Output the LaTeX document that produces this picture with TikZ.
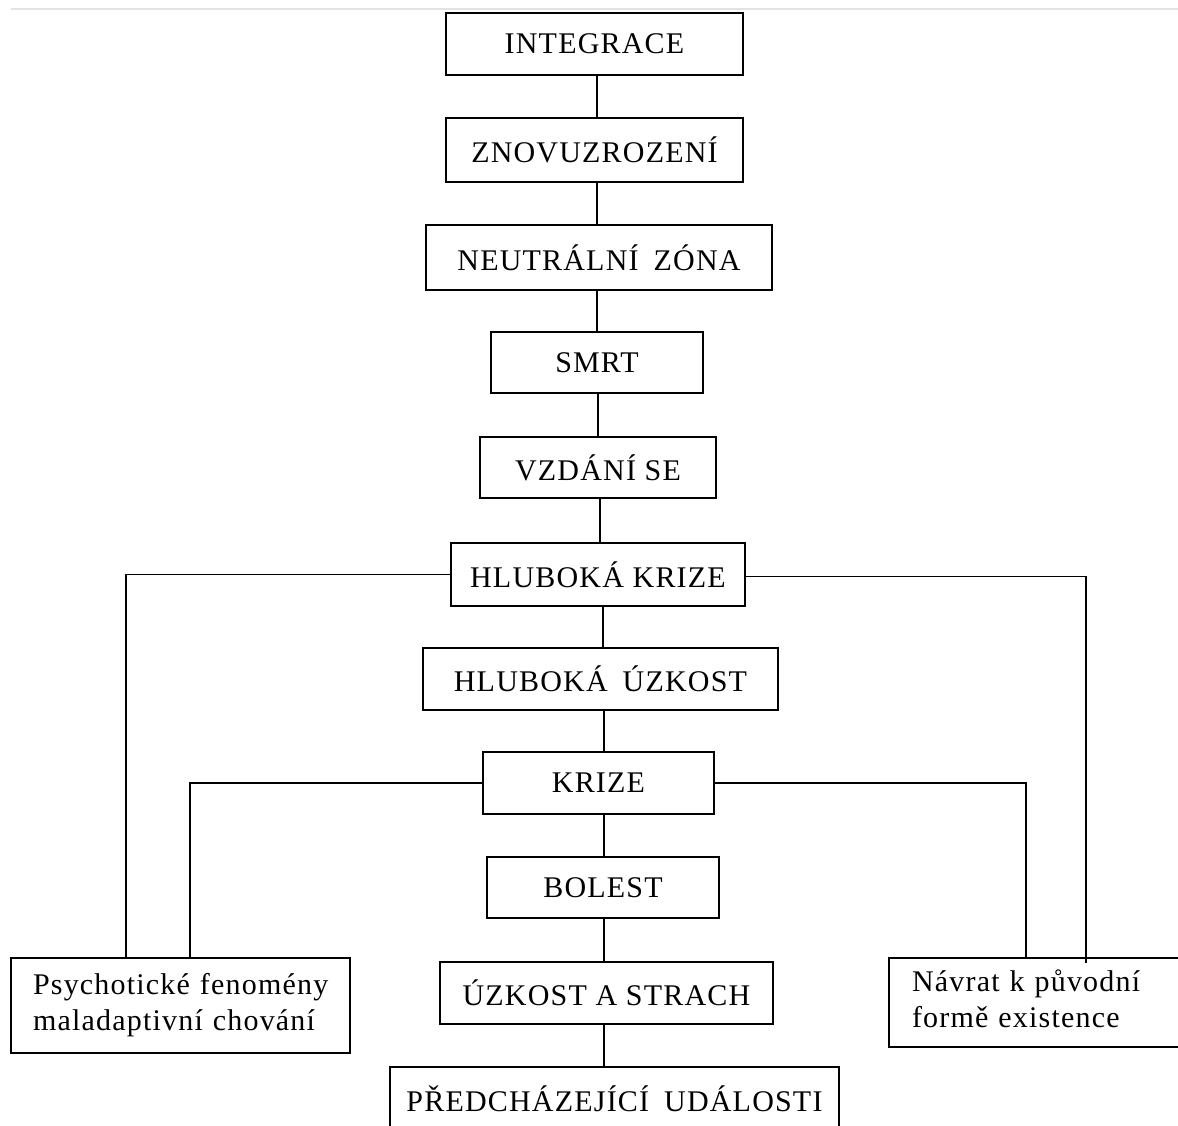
\documentclass[tikz,border=0pt]{standalone}
\usepackage{fontspec}
\setmainfont{Liberation Serif}[LetterSpace=4]
\begin{document}
\begin{tikzpicture}[x=1pt,y=-1pt,
  box/.style={draw, line width=1.9pt, rectangle, inner sep=0pt,
    font=\fontsize{30}{36}\selectfont},
  twoline/.style={box, align=left, text width=#1},
  conn/.style={line width=1.9pt}]
\useasboundingbox (0,0) rectangle (1178,1126);
\clip (0,0) rectangle (1178,1126);
% top page rule
\draw[gray!22, line width=2.5pt] (11,9) -- (1178,9);
% boxes
\node[box, minimum width=297pt, minimum height=62pt] (int) at (594.5,44) {INTEGRACE};
\node[box, minimum width=297pt, minimum height=64pt] (zno) at (594.5,150) {ZNOVUZROZENÍ};
\node[box, minimum width=346pt, minimum height=65pt] (neu) at (599,257.5) {NEUTRÁLNÍ\hspace{0.5em}ZÓNA};
\node[box, minimum width=212pt, minimum height=61pt] (smrt) at (597,362.5) {SMRT};
\node[box, minimum width=236pt, minimum height=61pt] (vzd) at (598,467.5) {VZDÁNÍ SE};
\node[box, minimum width=294pt, minimum height=63pt] (hk) at (598,574.5) {HLUBOKÁ KRIZE};
\node[box, minimum width=355pt, minimum height=62pt] (hu) at (600.5,679) {HLUBOKÁ\hspace{0.5em}ÚZKOST};
\node[box, minimum width=231pt, minimum height=62pt] (kr) at (598.5,783) {KRIZE};
\node[box, minimum width=232pt, minimum height=61pt] (bol) at (603,887.5) {BOLEST};
\node[box, minimum width=333pt, minimum height=62pt] (uz) at (606.5,993) {ÚZKOST A STRACH};
\node[box, minimum width=449pt, minimum height=64pt] (pred) at (614.5,1099) {PŘEDCHÁZEJÍCÍ\hspace{0.5em}UDÁLOSTI};
\node[twoline=295pt, minimum width=339pt, minimum height=95pt] (psy) at (180.5,1005.5)
  {\raisebox{8pt}{\begin{tabular}{@{}l@{}}Psychotické fenomény\\maladaptivní chování\end{tabular}}};
\node[twoline=255pt, minimum width=301pt, minimum height=89pt] (nav) at (1039.5,1002.5)
  {\raisebox{1pt}{\begin{tabular}{@{}l@{}}Návrat k původní\\formě existence\end{tabular}}};
% spine
\draw[conn] (int.south -| 597,0) -- (zno.north -| 597,0);
\draw[conn] (zno.south -| 597,0) -- (neu.north -| 597,0);
\draw[conn] (neu.south -| 597,0) -- (smrt.north -| 597,0);
\draw[conn] (smrt.south -| 598,0) -- (vzd.north -| 598,0);
\draw[conn] (vzd.south -| 600,0) -- (hk.north -| 600,0);
\draw[conn] (hk.south -| 603,0) -- (hu.north -| 603,0);
\draw[conn] (hu.south -| 604,0) -- (kr.north -| 604,0);
\draw[conn] (kr.south -| 604,0) -- (bol.north -| 604,0);
\draw[conn] (bol.south -| 604,0) -- (uz.north -| 604,0);
\draw[conn] (uz.south -| 604,0) -- (pred.north -| 604,0);
% side branches
\draw[conn] (hk.west) -| (psy.north -| 126,0);
\draw[conn] ([yshift=-2pt]hk.east) -| ([yshift=-6pt]nav.north -| 1086,0);
\draw[conn] (kr.west) -| (psy.north -| 190,0);
\draw[conn] (kr.east) -| (nav.north -| 1026,0);
\end{tikzpicture}
\end{document}
